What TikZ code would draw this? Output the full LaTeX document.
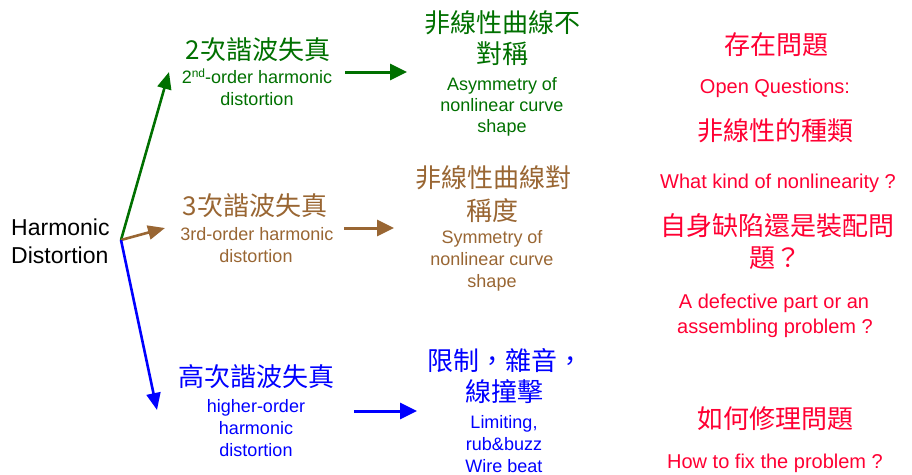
\documentclass[tikz,border=0pt]{standalone}
\usepackage{fontspec}
\setmainfont{Liberation Sans}
\newfontfamily\cjk{Noto Sans CJK TC}
\usetikzlibrary{arrows.meta}
\definecolor{cgreen}{RGB}{0,112,0}
\definecolor{cbrown}{RGB}{153,102,51}
\definecolor{cblue}{RGB}{0,0,255}
\definecolor{cred}{RGB}{255,0,51}
\tikzset{
  zh/.style={font=\cjk\fontsize{26}{30}\selectfont, inner sep=0pt, anchor=center},
  en/.style={font=\fontsize{18}{22}\selectfont, inner sep=0pt, anchor=base},
  enr/.style={font=\fontsize{20}{24}\selectfont, inner sep=0pt, anchor=base},
  enb/.style={font=\fontsize{23}{28}\selectfont, inner sep=0pt, anchor=base west},
  arr/.style={line width=3pt, -{Triangle[length=17pt,width=16pt]}},
  darr/.style={line width=2.6pt, -{Triangle[length=17pt,width=14pt]}},
}
\begin{document}
\begin{tikzpicture}[x=1pt,y=-1pt]
\useasboundingbox (0,0) rectangle (912,474);
% source
\node[enb] (hd1) at (11,235) {Harmonic};
\node[enb] (hd2) at (11,263) {Distortion};
\coordinate (src) at (121,240);
% green branch
\begin{scope}[text=cgreen]
\node[zh] (g1) at (258,50) {2次諧波失真};
\node[en] (g2) at (257,83) {2{\fontsize{12}{14}\selectfont\raisebox{6pt}{nd}}-order harmonic};
\node[en] (g3) at (257,105) {distortion};
\node[zh] (g4) at (502,23) {非線性曲線不};
\node[zh] (g5) at (502,54) {對稱};
\node[en] (g6) at (502,90) {Asymmetry of};
\node[en] (g7) at (502,111) {nonlinear curve};
\node[en] (g8) at (502,132) {shape};
\end{scope}
\coordinate (gt) at (169,72);
\coordinate (gs) at (345,72);
\coordinate (ge) at (407,72);
\draw[darr, cgreen] (src) -- (gt);
\draw[arr, cgreen] (gs) -- (ge);
% brown branch
\begin{scope}[text=cbrown]
\node[zh] (b1) at (255,206) {3次諧波失真};
\node[en] (b2) at (257,240) {3rd-order harmonic};
\node[en] (b3) at (256,262) {distortion};
\node[zh] (b4) at (493,178) {非線性曲線對};
\node[zh] (b5) at (492,211) {稱度};
\node[en] (b6) at (492,243) {Symmetry of};
\node[en] (b7) at (492,265) {nonlinear curve};
\node[en] (b8) at (492,287) {shape};
\end{scope}
\coordinate (bt) at (165,228);
\coordinate (bs) at (344,228);
\coordinate (be) at (394,228);
\draw[darr, cbrown] (src) -- (bt);
\draw[arr, cbrown] (bs) -- (be);
% blue branch
\begin{scope}[text=cblue]
\node[zh] (u1) at (256,377) {高次諧波失真};
\node[en] (u2) at (256,412) {higher-order};
\node[en] (u3) at (256,434) {harmonic};
\node[en] (u4) at (256,456) {distortion};
\node[zh] (u5) at (505,361) {限制，雜音，};
\node[zh] (u6) at (504,392) {線撞擊};
\node[en] (u7) at (504,428) {Limiting,};
\node[en] (u8) at (504,450) {rub\&buzz};
\node[en] (u9) at (504,472) {Wire beat};
\end{scope}
\coordinate (ut) at (157,410);
\coordinate (us) at (354,411);
\coordinate (ue) at (417,411);
\draw[darr, cblue] (src) -- (ut);
\draw[arr, cblue] (us) -- (ue);
% red column
\begin{scope}[text=cred]
\node[zh] (r1) at (776,45) {存在問題};
\node[enr] (r2) at (775,93) {Open Questions:};
\node[zh] (r3) at (775,131) {非線性的種類};
\node[enr] (r4) at (778,188) {What kind of nonlinearity ?};
\node[zh] (r5) at (777,226) {自身缺陷還是裝配問};
\node[zh] (r6) at (775,258) {題？};
\node[enr] (r7) at (774,308) {A defective part or an};
\node[enr] (r8) at (775,333) {assembling problem ?};
\node[zh] (r9) at (775,419) {如何修理問題};
\node[enr] (r10) at (775,468) {How to fix the problem ?};
\end{scope}
\end{tikzpicture}
\end{document}
